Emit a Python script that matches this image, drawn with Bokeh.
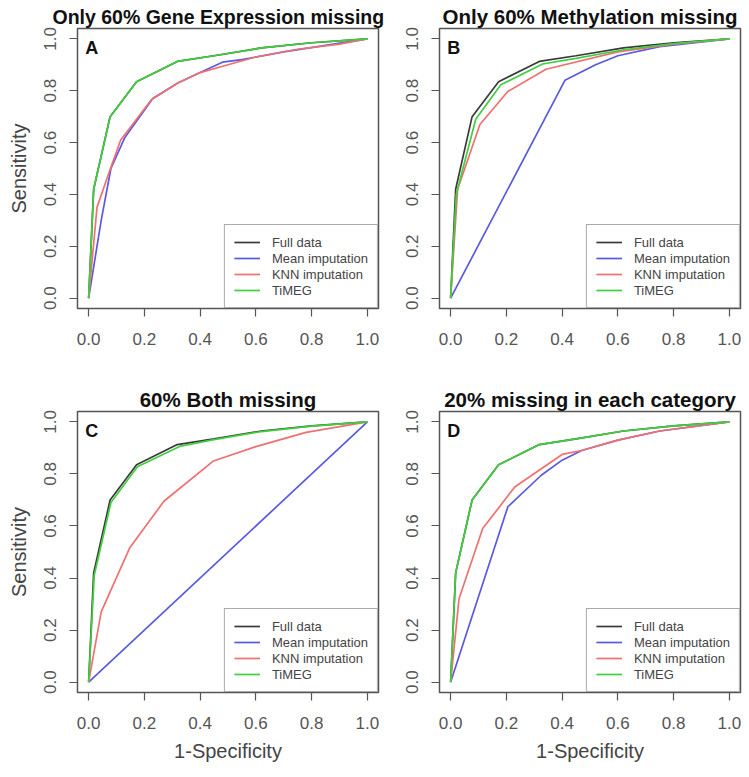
from bokeh.plotting import figure
from bokeh.layouts import gridplot
from bokeh.models import Range1d, Legend, LegendItem, Label, FixedTicker
from bokeh.embed import file_html
from bokeh.resources import INLINE

# ---------------- data ----------------
tick_values = [0.0, 0.2, 0.4, 0.6, 0.8, 1.0]
tick_labels = ["0.0", "0.2", "0.4", "0.6", "0.8", "1.0"]
series_names = ["Full data", "Mean imputation", "KNN imputation", "TiMEG"]
panel_titles = ["Only 60% Gene Expression missing", "Only 60% Methylation missing",
                "60% Both missing", "20% missing in each category"]
panel_letters = ["A", "B", "C", "D"]

full_x = [0, 0.018, 0.077, 0.172, 0.318, 0.45, 0.62, 0.8, 1.0]
full_y = [0, 0.42, 0.70, 0.835, 0.913, 0.935, 0.965, 0.985, 1.0]

a_mean_x = [0, 0.045, 0.08, 0.13, 0.23, 0.32, 0.40, 0.48, 0.55, 0.7, 0.85, 1.0]
a_mean_y = [0, 0.30, 0.50, 0.62, 0.77, 0.83, 0.87, 0.91, 0.92, 0.95, 0.975, 1.0]
a_knn_x = [0, 0.03, 0.075, 0.115, 0.225, 0.32, 0.40, 0.50, 0.6, 0.75, 0.9, 1.0]
a_knn_y = [0, 0.35, 0.49, 0.61, 0.765, 0.83, 0.87, 0.90, 0.93, 0.96, 0.98, 1.0]
a_timeg_x = [0, 0.018, 0.077, 0.172, 0.318, 0.45, 0.62, 0.8, 1.0]
a_timeg_y = [0, 0.42, 0.70, 0.835, 0.913, 0.935, 0.965, 0.985, 1.0]

b_mean_x = [0, 0.41, 0.52, 0.6, 0.75, 1.0]
b_mean_y = [0, 0.84, 0.90, 0.935, 0.97, 1.0]
b_knn_x = [0, 0.025, 0.105, 0.205, 0.342, 0.6, 0.8, 1.0]
b_knn_y = [0, 0.42, 0.67, 0.797, 0.883, 0.95, 0.98, 1.0]
b_timeg_x = [0, 0.02, 0.09, 0.18, 0.33, 0.45, 0.62, 0.8, 1.0]
b_timeg_y = [0, 0.40, 0.69, 0.823, 0.903, 0.925, 0.958, 0.982, 1.0]

c_mean_x = [0, 1.0]
c_mean_y = [0, 1.0]
c_knn_x = [0, 0.045, 0.147, 0.27, 0.448, 0.6, 0.78, 1.0]
c_knn_y = [0, 0.27, 0.515, 0.695, 0.85, 0.905, 0.96, 1.0]
c_timeg_x = [0, 0.02, 0.08, 0.175, 0.33, 0.45, 0.62, 0.8, 1.0]
c_timeg_y = [0, 0.41, 0.69, 0.828, 0.907, 0.932, 0.963, 0.984, 1.0]

d_mean_x = [0, 0.205, 0.325, 0.40, 0.47, 0.6, 0.75, 1.0]
d_mean_y = [0, 0.673, 0.795, 0.853, 0.89, 0.93, 0.965, 1.0]
d_knn_x = [0, 0.03, 0.115, 0.23, 0.40, 0.47, 0.6, 0.75, 1.0]
d_knn_y = [0, 0.32, 0.59, 0.75, 0.875, 0.89, 0.93, 0.965, 1.0]
d_timeg_x = [0, 0.018, 0.077, 0.172, 0.318, 0.45, 0.62, 0.8, 1.0]
d_timeg_y = [0, 0.42, 0.70, 0.835, 0.913, 0.935, 0.965, 0.985, 1.0]

# ---------------- style ----------------
FONT = "Liberation Sans"
colors = ["#3a3a3a", "#5a5ae0", "#f07070", "#3fcf3f"]
FRAME = "#555555"


def make_panel(idx, mean_x, mean_y, knn_x, knn_y, tim_x, tim_y,
               width, height, b_left, b_right, b_top, b_bottom,
               ylabel, xlabel, title_align="center", title_offset=0,
               title_size="20.5px"):
    p = figure(width=width, height=height, output_backend="svg",
               toolbar_location=None, x_range=Range1d(-0.04, 1.04),
               y_range=Range1d(-0.04, 1.04),
               min_border_left=b_left, min_border_right=b_right,
               min_border_top=b_top, min_border_bottom=b_bottom)
    p.title.text = panel_titles[idx]
    p.title.align = title_align
    p.title.offset = title_offset
    p.title.text_font = FONT
    p.title.text_font_size = title_size
    p.title.text_font_style = "bold"
    p.title.text_color = "#111111"
    p.title.standoff = 2
    p.grid.visible = False
    p.outline_line_color = FRAME
    p.outline_line_width = 1.5
    p.background_fill_color = "white"
    p.border_fill_color = "white"

    for ax in (p.xaxis[0], p.yaxis[0]):
        ax.ticker = FixedTicker(ticks=tick_values)
        ax.major_label_overrides = {v: s for v, s in zip(tick_values, tick_labels)}
        ax.axis_line_color = None
        ax.major_tick_line_color = FRAME
        ax.major_tick_line_width = 1.2
        ax.major_tick_out = 8
        ax.major_tick_in = 0
        ax.minor_tick_line_color = None
        ax.major_label_text_font = FONT
        ax.major_label_text_font_size = "17px"
        ax.major_label_text_color = "#555555"
        ax.axis_label_text_font = FONT
        ax.axis_label_text_font_size = "20px"
        ax.axis_label_text_font_style = "normal"
        ax.axis_label_text_color = "#444444"
    p.xaxis[0].major_label_standoff = 16
    p.xaxis[0].axis_label_standoff = 8
    p.yaxis[0].major_label_standoff = 13
    p.yaxis[0].axis_label_standoff = 12
    p.yaxis[0].major_label_orientation = "vertical"
    if ylabel:
        p.yaxis[0].axis_label = "Sensitivity"
    if xlabel:
        p.xaxis[0].axis_label = "1-Specificity"

    xs = [full_x, mean_x, knn_x, tim_x]
    ys = [full_y, mean_y, knn_y, tim_y]
    items = []
    for name, c, x, y in zip(series_names, colors, xs, ys):
        r = p.line(x, y, line_color=c, line_width=1.7)
        items.append(LegendItem(label=name, renderers=[r]))

    leg = Legend(items=items, location="bottom_right", margin=0, padding=9,
                 spacing=0, label_height=16, glyph_height=16, glyph_width=26,
                 label_standoff=12, label_text_font=FONT,
                 label_text_font_size="13px", label_text_color="#444444",
                 border_line_color=FRAME, border_line_width=1.5,
                 background_fill_color="white", background_fill_alpha=1.0)
    p.add_layout(leg)

    p.add_layout(Label(x=-0.012, y=1.005, text=panel_letters[idx],
                       text_font=FONT, text_font_size="18px",
                       text_font_style="bold", text_baseline="top",
                       text_align="left", text_color="#111111"))
    return p


pA = make_panel(0, a_mean_x, a_mean_y, a_knn_x, a_knn_y, a_timeg_x, a_timeg_y,
                398, 383, 77, 20, 28, 75, True, False,
                title_align="left", title_offset=-25, title_size="19.5px")
pB = make_panel(1, b_mean_x, b_mean_y, b_knn_x, b_knn_y, b_timeg_x, b_timeg_y,
                350, 383, 41, 8, 28, 75, False, False)
pC = make_panel(2, c_mean_x, c_mean_y, c_knn_x, c_knn_y, c_timeg_x, c_timeg_y,
                398, 393, 77, 20, 28, 84, True, True)
pD = make_panel(3, d_mean_x, d_mean_y, d_knn_x, d_knn_y, d_timeg_x, d_timeg_y,
                350, 393, 41, 8, 28, 84, False, True)

grid = gridplot([[pA, pB], [pC, pD]], toolbar_location=None)

open("out.html", "w").write(file_html(grid, INLINE))
